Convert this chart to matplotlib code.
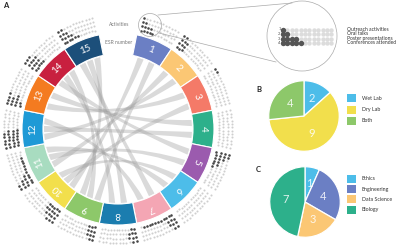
import numpy as np
import matplotlib
matplotlib.use("Agg")
import matplotlib.pyplot as plt
from matplotlib.patches import Wedge, Circle, Rectangle, PathPatch
from matplotlib.path import Path

plt.rcParams["font.family"] = ["Lato", "DejaVu Sans"]

# ---- data ----
esr_ids = list(range(1, 16))
esr_colors = ["#6b7fc4", "#fbc774", "#f47a68", "#2db08b", "#9b5bae",
              "#4dbde9", "#f4a6b4", "#1b7daf", "#8dc86a", "#f2df4c",
              "#a8dcc0", "#1e9ad6", "#f47b20", "#c8203f", "#1c4f7a"]

# dark dots per ESR, one list per activity (outermost row first)
activity_names = ["Outreach activities", "Oral talks", "Poster presentations", "Conferences attended"]
outreach = [1, 2, 2, 0, 2, 0, 2, 2, 2, 3, 2, 5, 4, 3, 2]
talks = [2, 3, 0, 0, 3, 0, 3, 3, 3, 4, 3, 6, 3, 4, 3]
posters = [4, 3, 0, 0, 5, 0, 3, 3, 3, 5, 4, 6, 4, 4, 4]
conferences = [5, 3, 0, 0, 6, 0, 11, 2, 3, 5, 10, 6, 2, 5, 6]
dots_per_row = 12

# collaborations between ESRs (chords)
links = [(1, 10), (1, 9), (2, 11), (2, 12), (3, 13), (3, 10), (4, 13),
         (4, 12), (5, 14), (5, 11), (6, 10), (7, 15), (7, 12), (8, 15),
         (8, 14), (9, 14), (11, 6), (15, 9)]

lab_labels = ["Wet Lab", "Dry Lab", "Both"]
lab_counts = [2, 9, 4]
lab_colors = ["#4dbde9", "#f2df4c", "#8dc86a"]

field_labels = ["Ethics", "Engineering", "Data Science", "Biology"]
field_counts = [1, 4, 3, 7]
field_colors = ["#4dbde9", "#6b7fc4", "#fbc774", "#2db08b"]

# ---- geometry (pixel space, y down) ----
W, H = 400, 246
cx, cy = 118, 129
r_in, r_out = 75, 96
slot = 360 / 16


def pt(theta, r):
    t = np.radians(theta)
    return cx + r * np.sin(t), cy - r * np.cos(t)


fig = plt.figure(figsize=(W / 100, H / 100), dpi=100)
ax = fig.add_axes([0, 0, 1, 1])
ax.set_xlim(0, W)
ax.set_ylim(H, 0)
ax.axis("off")

# chords
slots_used = {k: 0 for k in esr_ids}
n_links = {k: sum(k in l for l in links) for k in esr_ids}


def chord_span(k):
    i = slots_used[k]
    slots_used[k] += 1
    n = n_links[k]
    start = k * slot - slot / 2 + 2.0
    w = (slot - 4) / n
    mid = start + (i + 0.5) * w
    return mid - 2.4, mid + 2.4


for a, b in links:
    a1, a2 = chord_span(a)
    b1, b2 = chord_span(b)
    rr = r_in - 1
    # control point pulled part way toward the chord midpoint
    ma = np.array(pt((a1 + a2) / 2, rr))
    mb = np.array(pt((b1 + b2) / 2, rr))
    ctrl = tuple(np.array([cx, cy]) + 0.35 * ((ma + mb) / 2 - np.array([cx, cy])))
    verts, codes = [], []
    for t in np.linspace(a1, a2, 6):
        verts.append(pt(t, rr))
        codes.append(Path.MOVETO if not codes else Path.LINETO)
    verts += [ctrl, pt(b1, rr)]
    codes += [Path.CURVE3, Path.CURVE3]
    for t in np.linspace(b1, b2, 6)[1:]:
        verts.append(pt(t, rr))
        codes.append(Path.LINETO)
    verts += [ctrl, pt(a1, rr), pt(a1, rr)]
    codes += [Path.CURVE3, Path.CURVE3, Path.CLOSEPOLY]
    ax.add_patch(PathPatch(Path(verts, codes), facecolor="#9e9e9e",
                           edgecolor="none", alpha=0.38))

# ring segments and labels
for k, col in zip(esr_ids, esr_colors):
    t0 = k * slot - slot / 2
    ax.add_patch(Wedge((cx, cy), r_out, t0 - 90, t0 + slot - 90,
                       width=r_out - r_in, facecolor=col,
                       edgecolor="white", linewidth=0.8))
    x, y = pt(k * slot, (r_in + r_out) / 2)
    ax.text(x, y, str(k), color="white", fontsize=7, ha="center",
            va="center", rotation=-k * slot, rotation_mode="anchor")

# activity dots around ring
rows = [outreach, talks, posters, conferences]
row_r = [114, 109.7, 105.4, 101.1]
step = 1.7
for k in esr_ids:
    t_start = k * slot - slot / 2 + (slot - step * (dots_per_row - 1)) / 2
    for vals, r in zip(rows, row_r):
        thetas = t_start + step * np.arange(dots_per_row)
        xs, ys = pt(thetas, r)
        dark = np.arange(dots_per_row) < vals[k - 1]
        ax.scatter(xs[~dark], ys[~dark], s=2.2, color="#cfcfcf", linewidths=0)
        ax.scatter(xs[dark], ys[dark], s=3.4, color="#454545", linewidths=0)

ax.text(cx + 1, 24, "Activities", fontsize=3.6, color="#777777", ha="center", va="center")
ax.text(cx + 1, 43, "ESR number", fontsize=3.6, color="#777777", ha="center", va="center")

# zoom inset
ax.plot([158, 292], [15, 3], color="#aaaaaa", lw=0.5)
ax.plot([159, 276], [33, 62], color="#aaaaaa", lw=0.5)
ax.add_patch(Circle((150, 25), 11.5, facecolor="none", edgecolor="#aaaaaa", lw=0.5))
ax.add_patch(Circle((302, 36), 35, facecolor="white", edgecolor="#aaaaaa", lw=0.5))
inset_y = [29.5, 34, 38.5, 43]
inset_x = 283 + 4.4 * np.arange(dots_per_row)
for i, (vals, y) in enumerate(zip(rows, inset_y)):
    dark = np.arange(dots_per_row) < vals[0]
    ax.scatter(inset_x[~dark], np.full((~dark).sum(), y), s=10, color="#dcdcdc", linewidths=0)
    ax.scatter(inset_x[dark], np.full(dark.sum(), y), s=15, color="#555555", linewidths=0)
    ax.text(279.5, y, str(i + 1), fontsize=3, color="#555555", ha="center", va="center")
    ax.text(347, y - 0.3, activity_names[i], fontsize=3.6, color="#333333", va="center")

# panel letters
ax.text(3, 5, "A", fontsize=5.5, fontweight="bold", va="center", color="#222222")
ax.text(256, 90, "B", fontsize=5.5, fontweight="bold", va="center", color="#222222")
ax.text(256, 170, "C", fontsize=5.5, fontweight="bold", va="center", color="#222222")


# pies
def draw_pie(center, radius, counts, colors):
    px, py = center
    pax = fig.add_axes([(px - radius) / W, (H - py - radius) / H,
                        2 * radius / W, 2 * radius / H])
    wedges, texts = pax.pie(counts, colors=colors, startangle=90, counterclock=False,
                            labels=[str(c) for c in counts], labeldistance=0.55,
                            wedgeprops=dict(edgecolor="white", linewidth=0.9),
                            textprops=dict(color="white", fontsize=8, alpha=0.85))
    for t in texts:
        t.set_ha("center")
        t.set_va("center")
    pax.set_xlim(-1.02, 1.02)
    pax.set_ylim(-1.02, 1.02)


draw_pie((304, 116), 36, lab_counts, lab_colors)
draw_pie((305, 202), 36, field_counts, field_colors)


# legends
def draw_legend(x, y0, dy, labels, colors):
    for i, (lab, col) in enumerate(zip(labels, colors)):
        y = y0 + i * dy
        ax.add_patch(Rectangle((x, y - 4), 9, 8, facecolor=col, edgecolor="none"))
        ax.text(x + 15, y, lab, fontsize=3.8, color="#333333", va="center")


draw_legend(347, 98, 11.5, lab_labels, lab_colors)
draw_legend(347, 179, 10.2, field_labels, field_colors)

fig.savefig("out.png", dpi=100)
